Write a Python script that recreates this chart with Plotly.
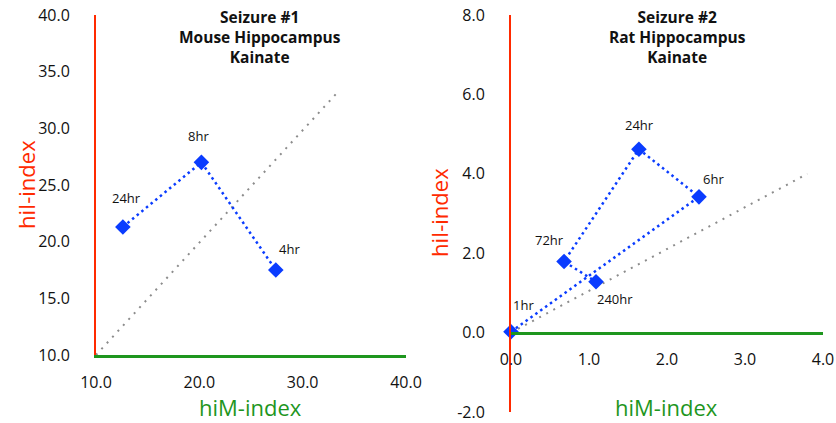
import plotly.graph_objects as go

W, H = 836, 423

# ---------------- data ----------------
s1_labels = ["24hr", "8hr", "4hr"]
s1_him = [12.6, 20.2, 27.4]
s1_hii = [21.3, 27.0, 17.5]
s1_ref_x = [10.0, 33.2]
s1_ref_y = [10.0, 33.0]
s1_xticks = [10, 20, 30, 40]
s1_yticks = [10, 15, 20, 25, 30, 35, 40]

s2_labels = ["1hr", "6hr", "24hr", "72hr", "240hr"]
s2_him = [0.0, 2.41, 1.64, 0.68, 1.09]
s2_hii = [0.02, 3.42, 4.62, 1.79, 1.28]
s2_ref_x = [0.0, 3.8]
s2_ref_y = [0.0, 4.0]
s2_xticks = [0, 1, 2, 3, 4]
s2_yticks = [-2, 0, 2, 4, 6, 8]

title1 = "Seizure #1<br>Mouse Hippocampus<br>Kainate"
title2 = "Seizure #2<br>Rat Hippocampus<br>Kainate"
x_title = "hiM-index"
y_title = "hiI-index"

# label offsets (px) — styling only
s1_off = [(4, 29), (-3, 26), (14, 21)]
s2_off = [(12, 27), (15, 18), (1, 24), (-15, 22), (19, -17)]

# ---------------- style ----------------
FONT = "Open Sans"
BLUE = "#0a3cff"
RED = "#ff2a00"
GREEN = "#1e961e"
GRAY = "#8c8c8c"

def px_x(p):
    return p / W

def px_y(p):
    return 1 - p / H

def fmt(vals):
    return ["%.1f" % v for v in vals]

dom1x = [px_x(96), px_x(406)]
dom1y = [px_y(355), px_y(15)]
dom2x = [px_x(511), px_x(823)]
dom2y = [px_y(412), px_y(15)]

yr2 = [-2, 8]
pos2 = dom2y[0] + (0 - yr2[0]) / (yr2[1] - yr2[0]) * (dom2y[1] - dom2y[0])

fig = go.Figure()

fig.add_trace(go.Scatter(x=s1_ref_x, y=s1_ref_y, mode="lines", xaxis="x", yaxis="y",
                         line=dict(color=GRAY, width=2, dash="2px,6px"), hoverinfo="skip"))
fig.add_trace(go.Scatter(x=s1_him, y=s1_hii, mode="lines+markers", xaxis="x", yaxis="y",
                         line=dict(color=BLUE, width=2.5, dash="2.5px,3.5px"),
                         marker=dict(symbol="diamond", size=12, color=BLUE), cliponaxis=False))

fig.add_trace(go.Scatter(x=s2_ref_x, y=s2_ref_y, mode="lines", xaxis="x2", yaxis="y2",
                         line=dict(color=GRAY, width=2, dash="2px,6px"), hoverinfo="skip"))
fig.add_trace(go.Scatter(x=s2_him, y=s2_hii, mode="lines+markers", xaxis="x2", yaxis="y2",
                         line=dict(color=BLUE, width=2.5, dash="2.5px,3.5px"),
                         marker=dict(symbol="diamond", size=12, color=BLUE), cliponaxis=False))

annotations = []
for lab, x, y, (dx, dy) in zip(s1_labels, s1_him, s1_hii, s1_off):
    annotations.append(dict(x=x, y=y, xref="x", yref="y", text=lab, showarrow=False,
                            xshift=dx, yshift=dy, font=dict(family=FONT, size=13, color="#111")))
for lab, x, y, (dx, dy) in zip(s2_labels, s2_him, s2_hii, s2_off):
    annotations.append(dict(x=x, y=y, xref="x2", yref="y2", text=lab, showarrow=False,
                            xshift=dx, yshift=dy, font=dict(family=FONT, size=13, color="#111")))

def bold_lines(t):
    return "<br>".join("<b>%s</b>" % s for s in t.split("<br>"))

# titles
annotations.append(dict(x=px_x(260), y=px_y(4), xref="paper", yref="paper", text=bold_lines(title1),
                        showarrow=False, xanchor="center", yanchor="top",
                        font=dict(family=FONT, size=15.5, color="#111")))
annotations.append(dict(x=px_x(677), y=px_y(4), xref="paper", yref="paper", text=bold_lines(title2),
                        showarrow=False, xanchor="center", yanchor="top",
                        font=dict(family=FONT, size=15.5, color="#111")))

# axis titles
for xc, yc in [(250, 407), (666, 407)]:
    annotations.append(dict(x=px_x(xc), y=px_y(yc), xref="paper", yref="paper", text=x_title,
                            showarrow=False, xanchor="center", yanchor="middle",
                            font=dict(family=FONT, size=22, color=GREEN)))
for xc, yc in [(26, 185), (439, 213)]:
    annotations.append(dict(x=px_x(xc), y=px_y(yc), xref="paper", yref="paper", text=y_title,
                            showarrow=False, xanchor="center", yanchor="middle", textangle=-90,
                            font=dict(family=FONT, size=22, color=RED)))

tickfont = dict(family=FONT, size=16, color="#111")
common = dict(showgrid=False, zeroline=False, ticks="", tickfont=tickfont,
              showline=True, automargin=False, tickmode="array")

fig.update_layout(
    template="none",
    width=W, height=H,
    margin=dict(l=0, r=0, t=0, b=0, autoexpand=False),
    paper_bgcolor="white", plot_bgcolor="white",
    showlegend=False,
    annotations=annotations,
    xaxis=dict(domain=dom1x, range=[10, 40], tickvals=s1_xticks, ticktext=fmt(s1_xticks), anchor="y",
               linecolor=GREEN, linewidth=2.5, ticklabelstandoff=11, **common),
    yaxis=dict(domain=dom1y, range=[10, 40], tickvals=s1_yticks, ticktext=fmt(s1_yticks), anchor="x",
               linecolor=RED, linewidth=2, ticklabelstandoff=21, **common),
    xaxis2=dict(domain=dom2x, range=[0, 4], tickvals=s2_xticks, ticktext=fmt(s2_xticks),
                anchor="free", position=pos2,
                linecolor=GREEN, linewidth=2.5, ticklabelstandoff=11, **common),
    yaxis2=dict(domain=dom2y, range=yr2, tickvals=s2_yticks, ticktext=fmt(s2_yticks), anchor="x2",
                linecolor=RED, linewidth=2, ticklabelstandoff=21, **common),
)

fig.write_html(
    "out.html",
    config={"displayModeBar": False},
    post_script="document.body.style.margin='0px';document.body.style.overflow='hidden';",
)
